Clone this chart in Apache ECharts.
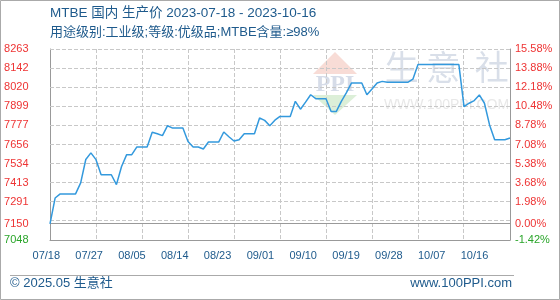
<!DOCTYPE html>
<html><head><meta charset="utf-8">
<script src="https://cdn.jsdelivr.net/npm/echarts@6/dist/echarts.min.js"></script>
<style>html,body{margin:0;padding:0;background:#fff}#c{width:560px;height:300px}</style>
</head><body><div id="c"></div>
<script>
const titleText = 'MTBE 国内 生产价 2023-07-18 - 2023-10-16';
const subText = '用途级别:工业级;等级:优级品;MTBE含量:≥98%';
const footerLeft = '© 2025.05 生意社';
const footerRight = 'www.100PPI.com';
const startDate = '2023-07-18';
const endDate = '2023-10-16';
const basePrice = 7150;
const xLabels = ['07/18','07/27','08/05','08/14','08/23','09/01','09/10','09/19','09/28','10/07','10/16'];
const dates = ['2023-07-18','2023-07-19','2023-07-20','2023-07-23','2023-07-24','2023-07-25','2023-07-26','2023-07-27','2023-07-28','2023-07-30',
  '2023-07-31','2023-08-01','2023-08-02','2023-08-03','2023-08-04','2023-08-06','2023-08-07','2023-08-08','2023-08-09','2023-08-10',
  '2023-08-11','2023-08-13','2023-08-14','2023-08-15','2023-08-16','2023-08-17','2023-08-18','2023-08-20','2023-08-21','2023-08-22',
  '2023-08-23','2023-08-24','2023-08-25','2023-08-27','2023-08-28','2023-08-29','2023-08-30','2023-08-31','2023-09-01','2023-09-03',
  '2023-09-04','2023-09-05','2023-09-06','2023-09-07','2023-09-08','2023-09-10','2023-09-11','2023-09-12','2023-09-13','2023-09-14',
  '2023-09-15','2023-09-17','2023-09-18','2023-09-19','2023-09-20','2023-09-21','2023-09-22','2023-09-26','2023-09-27','2023-09-28',
  '2023-10-06','2023-10-07','2023-10-08','2023-10-09','2023-10-10','2023-10-11','2023-10-12','2023-10-13','2023-10-15','2023-10-16'];
const prices = [7150,7315,7341,7341,7411,7560,7602,7559,7463,7463,
  7400,7516,7591,7591,7640,7640,7733,7724,7712,7775,
  7760,7760,7675,7640,7640,7627,7671,7671,7735,7705,
  7678,7686,7724,7724,7824,7809,7775,7810,7834,7834,
  7930,7880,7925,7972,7947,7947,7865,7865,7930,7985,
  8047,8047,7972,8008,8047,8057,8051,8051,8071,8164,
  8164,7897,7918,7935,7971,7918,7780,7686,7686,7697];
const leftTickValues = [7048,7150,7291,7412.5,7534,7655.5,7777,7898.5,8020,8141.5,8263];
const leftTickLabels = ['7048','7150','7291','7413','7534','7656','7777','7899','8020','8142','8263'];
const rightTickLabels = ['-1.42%','0.00%','1.98%','3.68%','5.38%','7.08%','8.78%','10.48%','12.18%','13.88%','15.58%'];

const FONT = "'Liberation Sans','Noto Sans CJK SC',sans-serif";
const BLUE_TEXT = '#1e5a8c';
const Y_MIN = 7048, Y_MAX = 8263, X_STEP_DAYS = 9, Y_DIVS = 10;
const GRID_L = 50, GRID_R = 50, GRID_T = 49, GRID_B = 60, W = 560, H = 300;
const dayMs = 86400000;
const t0 = Date.parse(startDate + 'T00:00:00Z');
const dayOf = d => Math.round((Date.parse(d + 'T00:00:00Z') - t0) / dayMs);
const seriesData = dates.map((d, i) => [dayOf(d), prices[i]]);
const lastDay = dayOf(endDate);
const idxOf = v => leftTickValues.indexOf(v);
const labelColor = v => v === basePrice ? '#000000' : (v < basePrice ? '#2aa52a' : '#ee3333');
const crisp = p => Math.round(p - 0.5) + 0.5;

const chart = echarts.init(document.getElementById('c'));
chart.setOption({
  animation: false,
  backgroundColor: '#ffffff',
  grid: [
    {left: GRID_L, right: GRID_R, top: GRID_T, bottom: GRID_B},
    {left: 46.3, right: 85.5, top: GRID_T, bottom: GRID_B}
  ],
  xAxis: [
    {type: 'value', gridIndex: 0, min: 0, max: lastDay, interval: X_STEP_DAYS,
     axisLine: {show: true, onZero: false, lineStyle: {color: '#999999', width: 1}},
     axisTick: {show: false}, axisLabel: {show: false}, splitLine: {show: false}},
    {type: 'category', gridIndex: 1, data: xLabels, boundaryGap: false,
     axisLine: {show: false}, axisTick: {show: false}, splitLine: {show: false},
     axisLabel: {show: true, interval: 0, margin: 10, color: BLUE_TEXT, fontSize: 11, fontFamily: FONT}}
  ],
  yAxis: [
    {type: 'value', gridIndex: 0, position: 'left', min: Y_MIN, max: Y_MAX,
     axisLine: {show: true, lineStyle: {color: '#999999', width: 1}},
     axisTick: {show: false}, splitLine: {show: false},
     axisLabel: {show: true, customValues: leftTickValues, margin: 21.5, fontSize: 11, fontFamily: FONT,
       formatter: v => leftTickLabels[idxOf(v)], color: v => labelColor(v)}},
    {type: 'value', gridIndex: 0, position: 'right', min: Y_MIN, max: Y_MAX,
     axisLine: {show: true, lineStyle: {color: '#999999', width: 1}},
     axisTick: {show: false}, splitLine: {show: false},
     axisLabel: {show: true, customValues: leftTickValues, margin: 5, fontSize: 11, fontFamily: FONT,
       formatter: v => rightTickLabels[idxOf(v)], color: v => labelColor(v)}},
    {type: 'value', gridIndex: 1, show: false, min: 0, max: 1}
  ],
  series: [{
    type: 'line', xAxisIndex: 0, yAxisIndex: 0, data: seriesData,
    showSymbol: false, symbol: 'none', z: 120,
    lineStyle: {color: '#3399dd', width: 1.5}
  }]
});

// pixel position of a (day, price) pair through the chart's own scales, with a linear fallback on the grid box
function toPx(d, v) {
  let p = null;
  try { p = chart.convertToPixel({xAxisIndex: 0, yAxisIndex: 0}, [d, v]); } catch (e) { p = null; }
  if (!p || !isFinite(p[0]) || !isFinite(p[1])) {
    const w = W - GRID_L - GRID_R, h = H - GRID_T - GRID_B;
    p = [GRID_L + d / lastDay * w, GRID_T + (Y_MAX - v) / (Y_MAX - Y_MIN) * h];
  }
  return p;
}
const pTL = toPx(0, Y_MAX), pBR = toPx(lastDay, Y_MIN);
const gridEls = [];
for (let d = X_STEP_DAYS; d < lastDay; d += X_STEP_DAYS) {
  const x = crisp(toPx(d, Y_MIN)[0]);
  gridEls.push({type: 'line', z: 100, silent: true, shape: {x1: x, y1: pTL[1], x2: x, y2: pBR[1]}, style: {stroke: '#c8c8c8', lineWidth: 1, lineDash: [4, 2]}});
}
for (let k = 1; k <= Y_DIVS; k++) {
  const y = crisp(toPx(0, Y_MIN + k * (Y_MAX - Y_MIN) / Y_DIVS)[1]);
  gridEls.push({type: 'line', z: 100, silent: true, shape: {x1: pTL[0], y1: y, x2: pBR[0], y2: y}, style: {stroke: '#c8c8c8', lineWidth: 1, lineDash: [4, 2]}});
}
const by = crisp(toPx(0, basePrice)[1]);
gridEls.push({type: 'line', z: 101, silent: true, shape: {x1: pTL[0], y1: by, x2: pBR[0], y2: by}, style: {stroke: '#999999', lineWidth: 1}});

const wm = (o) => Object.assign({z: -10, silent: true}, o);
chart.setOption({
  graphic: [
    wm({type: 'polygon', shape: {points: [[335, 52], [313, 74], [357, 74]]}, style: {fill: '#f8dcd6'}}),
    wm({type: 'polygon', shape: {points: [[313, 95], [357, 95], [335, 115]]}, style: {fill: '#dcefd8'}}),
    wm({type: 'text', x: 335, y: 85, style: {text: 'PPI', font: 'bold 24px serif', fill: '#d6dce8', align: 'center', verticalAlign: 'middle'}}),
    wm({type: 'text', x: 401.7, y: 71, style: {text: '生', font: '34px ' + FONT, fill: '#d9dfe9', align: 'center', verticalAlign: 'middle'}}),
    wm({type: 'text', x: 443.3, y: 71, style: {text: '意', font: '34px ' + FONT, fill: '#d9dfe9', align: 'center', verticalAlign: 'middle'}}),
    wm({type: 'text', x: 491.7, y: 71, style: {text: '社', font: '34px ' + FONT, fill: '#d9dfe9', align: 'center', verticalAlign: 'middle'}}),
    wm({type: 'text', x: 446.5, y: 105, style: {text: 'WWW.100PPI.COM', font: '14px ' + FONT, fill: '#e8e8e8', align: 'center', verticalAlign: 'middle'}}),
    ...gridEls,
    {type: 'rect', z: 100, silent: true, shape: {x: 0.5, y: 0.5, width: 559, height: 299}, style: {fill: 'none', stroke: '#aaaaaa', lineWidth: 1}},
    {type: 'text', left: 50, top: 7, z: 10, style: {text: titleText, font: '13.5px ' + FONT, fill: BLUE_TEXT}},
    {type: 'text', left: 50, top: 26, z: 10, style: {text: subText, font: '13px ' + FONT, fill: BLUE_TEXT}},
    {type: 'line', z: 10, silent: true, shape: {x1: 10, y1: 275.5, x2: 514, y2: 275.5}, style: {stroke: '#aaaaaa', lineWidth: 1}},
    {type: 'text', left: 10, top: 277, z: 10, style: {text: footerLeft, font: '13px ' + FONT, fill: BLUE_TEXT}},
    {type: 'text', right: 48, top: 277, z: 10, style: {text: footerRight, font: '13px ' + FONT, fill: BLUE_TEXT}}
  ]
});
</script></body></html>
